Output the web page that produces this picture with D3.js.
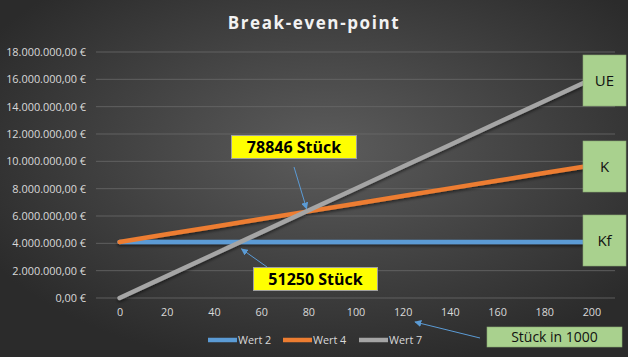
<!DOCTYPE html>
<html><head><meta charset="utf-8">
<script src="https://cdn.jsdelivr.net/npm/d3@7"></script>
<style>html,body{margin:0;padding:0;background:#333;}svg{display:block;}</style>
</head><body>
<script>
const categories = [0, 20, 40, 60, 80, 100, 120, 140, 160, 180, 200];
const wert2 = [4100000, 4100000, 4100000, 4100000, 4100000, 4100000, 4100000, 4100000, 4100000, 4100000, 4100000];
const wert4 = [4100000, 4660000, 5220000, 5780000, 6340000, 6900000, 7460000, 8020000, 8580000, 9140000, 9700000];
const wert7 = [0, 1600000, 3200000, 4800000, 6400000, 8000000, 9600000, 11200000, 12800000, 14400000, 16000000];
const yTicks = [0, 2000000, 4000000, 6000000, 8000000, 10000000, 12000000, 14000000, 16000000, 18000000];
const seriesNames = ["Wert 2", "Wert 4", "Wert 7"];
const colors = ["#5b9bd5", "#ed7d31", "#a5a5a5"];
const title = "Break-even-point";
const breakEven1 = {label: "78846 Stück", x: 78.846, y: 6307680};
const breakEven2 = {label: "51250 Stück", x: 51.25, y: 4100000};
const sideLabels = ["UE", "K", "Kf"];
const axisNote = "Stück in 1000";

const W = 628, H = 357;
const svg = d3.select("body").append("svg").attr("width", W).attr("height", H);
const defs = svg.append("defs");
const grad = defs.append("radialGradient").attr("id", "bg")
  .attr("cx", "52%").attr("cy", "42%").attr("r", "62%");
grad.append("stop").attr("offset", "0%").attr("stop-color", "#5c5c5c");
grad.append("stop").attr("offset", "100%").attr("stop-color", "#2b2b2b");
svg.append("rect").attr("width", W).attr("height", H).attr("fill", "url(#bg)");

const mk = defs.append("marker").attr("id", "arr").attr("viewBox", "0 0 10 10")
  .attr("refX", 9).attr("refY", 5).attr("markerWidth", 7).attr("markerHeight", 7)
  .attr("orient", "auto-start-reverse").attr("markerUnits", "userSpaceOnUse");
mk.append("path").attr("d", "M0,0 L10,5 L0,10 Z").attr("fill", "#5b9bd5");

const shadow = defs.append("filter").attr("id", "sh").attr("x", "-10%").attr("y", "-10%").attr("width", "120%").attr("height", "130%");
shadow.append("feDropShadow").attr("dx", 0).attr("dy", 2).attr("stdDeviation", 1.5).attr("flood-color", "#000").attr("flood-opacity", 0.5);

const font = "'Open Sans', 'Noto Sans', sans-serif";
const plotL = 96, plotR = 615, plotT = 52, plotB = 298;

const x = d3.scalePoint().domain(categories).range([plotL, plotR]).padding(0.5);
const xLin = d3.scaleLinear().domain([0, 200]).range([x(0), x(200)]);
const y = d3.scaleLinear().domain([0, 18000000]).range([plotB, plotT]);

// title
svg.append("text").attr("x", 314).attr("y", 29).attr("text-anchor", "middle")
  .attr("fill", "#f2f2f2").attr("font-family", font).attr("font-weight", "bold")
  .attr("font-size", 17).attr("letter-spacing", 1.6).text(title);

// gridlines
svg.append("g").selectAll("line").data(yTicks).join("line")
  .attr("x1", plotL).attr("x2", plotR).attr("y1", d => y(d)).attr("y2", d => y(d))
  .attr("stroke", "#6a6a6a").attr("stroke-width", 0.8);

// y axis
const fmt = v => d3.format(",.2f")(v).replace(/,/g, "X").replace(/\./g, ",").replace(/X/g, ".") + " €";
const yAxis = d3.axisLeft(y).tickValues(yTicks).tickFormat(fmt).tickSize(0).tickPadding(0);
const gy = svg.append("g").attr("transform", `translate(86,0)`).call(yAxis);
gy.select(".domain").remove();
gy.selectAll("text").attr("fill", "#d9d9d9").attr("font-family", font).attr("font-size", 10.9);

// x axis
const xAxis = d3.axisBottom(x).tickSize(0).tickPadding(0);
const gx = svg.append("g").attr("transform", `translate(0,308)`).call(xAxis);
gx.select(".domain").remove();
gx.selectAll("text").attr("fill", "#d9d9d9").attr("font-family", font).attr("font-size", 10.8);

// lines
const allSeries = [wert2, wert4, wert7];
const line = d3.line().x((d, i) => x(categories[i])).y(d => y(d));
svg.append("g").attr("filter", "url(#sh)").selectAll("path").data(allSeries).join("path")
  .attr("d", d => line(d)).attr("fill", "none")
  .attr("stroke", (d, i) => colors[i]).attr("stroke-width", 4.5).attr("stroke-linecap", "round");

// legend
const legendItems = [{x: 208}, {x: 283}, {x: 359}];
const lg = svg.append("g");
legendItems.forEach((it, i) => {
  lg.append("line").attr("x1", it.x).attr("x2", it.x + 29).attr("y1", 340).attr("y2", 340)
    .attr("stroke", colors[i]).attr("stroke-width", 4.5);
  lg.append("text").attr("x", it.x + 30).attr("y", 344).attr("fill", "#d9d9d9")
    .attr("font-family", font).attr("font-size", 10.8).text(seriesNames[i]);
});

// annotation arrows
function arrow(x1, y1, x2, y2) {
  svg.append("line").attr("x1", x1).attr("y1", y1).attr("x2", x2).attr("y2", y2)
    .attr("stroke", "#5b9bd5").attr("stroke-width", 1).attr("marker-end", "url(#arr)");
}
arrow(294, 167, xLin(breakEven1.x) + 1, y(breakEven1.y) - 3);
arrow(267, 267, xLin(breakEven2.x) + 1, y(breakEven2.y) + 7);
arrow(480, 338, 415, 322);

// yellow boxes
function yellowBox(x0, y0, w, h, t) {
  svg.append("rect").attr("x", x0).attr("y", y0).attr("width", w).attr("height", h)
    .attr("fill", "#ffff00").attr("stroke", "#a0a0a0").attr("stroke-width", 1);
  svg.append("text").attr("x", x0 + w / 2).attr("y", y0 + h / 2 + 6).attr("text-anchor", "middle")
    .attr("fill", "#000").attr("font-family", font).attr("font-weight", "bold")
    .attr("font-size", 16).text(t);
}
yellowBox(231.5, 135.5, 125, 23, breakEven1.label);
yellowBox(253.5, 267.5, 124, 23, breakEven2.label);

// green boxes
function greenBox(x0, y0, w, h, t, fs) {
  svg.append("rect").attr("x", x0).attr("y", y0).attr("width", w).attr("height", h)
    .attr("fill", "#a9d18e").attr("stroke", "#8aaa74").attr("stroke-width", 0.6);
  svg.append("text").attr("x", x0 + w / 2).attr("y", y0 + h / 2 + fs * 0.36).attr("text-anchor", "middle")
    .attr("fill", "#111").attr("font-family", font).attr("font-size", fs).text(t);
}
greenBox(583, 55, 43, 51, sideLabels[0], 15);
greenBox(583, 141, 43, 51, sideLabels[1], 15);
greenBox(583, 215, 43, 51, sideLabels[2], 15);
greenBox(487, 327, 135, 20, axisNote, 14);
</script>
</body></html>
